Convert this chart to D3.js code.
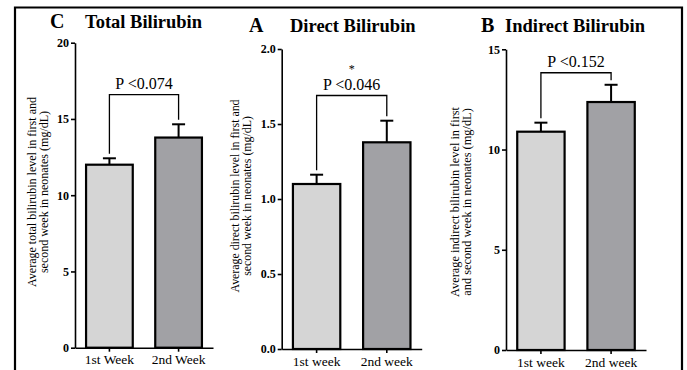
<!DOCTYPE html>
<html>
<head>
<meta charset="utf-8">
<script src="https://cdn.jsdelivr.net/npm/d3@7"></script>
<style>
  body { margin: 0; background: #fff; }
  svg { display: block; }
</style>
</head>
<body>
<div id="chart"></div>
<script>
// values
const panelLetters = ["C", "A", "B"];
const panelTitles = ["Total Bilirubin", "Direct Bilirubin", "Indirect Bilirubin"];
const weekLabels = [
  ["1st Week", "2nd Week"],
  ["1st week", "2nd week"],
  ["1st week", "2nd week"]
];
const meanValues = [
  [12.0, 13.78],
  [1.10, 1.378],
  [10.89, 12.37]
];
const errorValues = [
  [0.42, 0.87],
  [0.062, 0.144],
  [0.45, 0.86]
];
const yMaxValues = [20, 2.0, 15];
const yTickValues = [
  [0, 5, 10, 15, 20],
  [0, 0.5, 1.0, 1.5, 2.0],
  [0, 5, 10, 15]
];
const yTickFormats = ["d", ".1f", "d"];
const pLabels = ["P <0.074", "P <0.046", "P <0.152"];
const starLabels = ["", "*", ""];
const bracketLevels = [16.6, 1.69, 13.83];
const yAxisLabels = [
  ["Average total bilirubin level in first and", "second week in neonates (mg/dL)"],
  ["Average direct bilirubin level in first and", "second week in neonates (mg/dL)"],
  ["Average indirect bilirubin level in first", "and second week in neonates (mg/dL)"]
];
const barColors = ["#d5d5d5", "#a1a1a5"];

const width = 687, height = 370;
const serif = "Liberation Serif";

// where each panel's plot area sits
const layout = [
  { x0: 75, x1: 213, yTop: 42.7, yBottom: 347.7, letterX: 50, titleX: 85, titleY: 28, labelX: 32, labelY: 192, labelLen: 190 },
  { x0: 281.7, x1: 421.7, yTop: 49, yBottom: 349, letterX: 249, titleX: 290, titleY: 32, labelX: 235, labelY: 196, labelLen: 193 },
  { x0: 506, x1: 646, yTop: 49.3, yBottom: 350, letterX: 481, titleX: 505, titleY: 32, labelX: 455, labelY: 202, labelLen: 190 }
];

var svg = d3.select("#chart")
  .append("svg")
  .attr("width", width)
  .attr("height", height);

// outer frame of the figure
svg.append("path")
  .attr("d", "M15," + height + " L15,7.5 L682,7.5 L682," + height)
  .attr("fill", "none")
  .attr("stroke", "#000")
  .attr("stroke-width", 2.2);

panelTitles.forEach(function(title, i) {
  var L = layout[i];
  var g = svg.append("g");

  var x = d3.scaleBand()
    .domain(weekLabels[i])
    .range([L.x0, L.x1])
    .paddingInner(0.325)
    .paddingOuter(0.16);

  var y = d3.scaleLinear()
    .domain([0, yMaxValues[i]])
    .range([L.yBottom, L.yTop]);

  // panel letter + title
  g.append("text")
    .attr("x", L.letterX)
    .attr("y", L.titleY)
    .style("font-family", serif)
    .style("font-size", "20px")
    .style("font-weight", "bold")
    .text(panelLetters[i]);
  g.append("text")
    .attr("x", L.titleX)
    .attr("y", L.titleY)
    .style("font-family", serif)
    .style("font-size", "18.5px")
    .style("font-weight", "bold")
    .text(title);

  var data = weekLabels[i].map(function(w, j) {
    return { week: w, mean: meanValues[i][j], err: errorValues[i][j], color: barColors[j] };
  });

  // upper error bars (drawn first so the bar covers the stem base)
  var eb = g.selectAll(".err")
    .data(data)
    .enter().append("g")
    .attr("class", "err")
    .attr("stroke", "#000")
    .attr("stroke-width", 2);
  eb.append("line")
    .attr("x1", function(d) { return x(d.week) + x.bandwidth() / 2; })
    .attr("x2", function(d) { return x(d.week) + x.bandwidth() / 2; })
    .attr("y1", function(d) { return y(d.mean); })
    .attr("y2", function(d) { return y(d.mean + d.err); });
  eb.append("line")
    .attr("x1", function(d) { return x(d.week) + x.bandwidth() / 2 - 6.5; })
    .attr("x2", function(d) { return x(d.week) + x.bandwidth() / 2 + 6.5; })
    .attr("y1", function(d) { return y(d.mean + d.err); })
    .attr("y2", function(d) { return y(d.mean + d.err); });

  g.selectAll(".bar")
    .data(data)
    .enter().append("rect")
    .attr("class", "bar")
    .attr("x", function(d) { return x(d.week); })
    .attr("y", function(d) { return y(d.mean); })
    .attr("width", x.bandwidth())
    .attr("height", function(d) { return y(0) - y(d.mean); })
    .attr("fill", function(d) { return d.color; })
    .attr("stroke", "#000")
    .attr("stroke-width", 2.2);

  // axes
  var yAxis = g.append("g")
    .attr("transform", "translate(" + L.x0 + ",0)")
    .call(d3.axisLeft(y)
      .tickValues(yTickValues[i])
      .tickFormat(d3.format(yTickFormats[i]))
      .tickSize(4)
      .tickSizeOuter(0)
      .tickPadding(2));
  yAxis.attr("font-family", null);
  yAxis.selectAll("path, line").attr("stroke", "#000").attr("stroke-width", 1.6);
  yAxis.selectAll("text")
    .style("font-family", serif)
    .style("font-size", "12px")
    .style("font-weight", "bold")
    .attr("fill", "#000");

  var xAxis = g.append("g")
    .attr("transform", "translate(0," + L.yBottom + ")")
    .call(d3.axisBottom(x).tickSize(4).tickSizeOuter(0).tickPadding(3));
  xAxis.attr("font-family", null);
  xAxis.selectAll("path, line").attr("stroke", "#000").attr("stroke-width", 1.6);
  xAxis.selectAll("text")
    .style("font-family", serif)
    .style("font-size", "13.5px")
    .attr("fill", "#000");

  // y axis title: two rotated lines, condensed like the original
  var lines = yAxisLabels[i].map(function(line, k) {
    return g.append("text")
      .attr("transform", "translate(" + (L.labelX + k * 11.5) + "," + L.labelY + ") rotate(-90)")
      .attr("text-anchor", "middle")
      .attr("dy", "0.35em")
      .style("font-family", serif)
      .style("font-size", "12.5px")
      .text(line);
  });
  var factor = L.labelLen / lines[0].node().getComputedTextLength();
  lines.forEach(function(t) {
    t.attr("textLength", (t.node().getComputedTextLength() * factor).toFixed(1))
      .attr("lengthAdjust", "spacingAndGlyphs");
  });

  // significance bracket
  var cx1 = x(weekLabels[i][0]) + x.bandwidth() / 2;
  var cx2 = x(weekLabels[i][1]) + x.bandwidth() / 2;
  var top = y(bracketLevels[i]);
  var leg1 = y(data[0].mean + data[0].err) - 4.5;
  var leg2 = y(data[1].mean + data[1].err) - 4.5;
  g.append("path")
    .attr("d", "M" + cx1 + "," + leg1 + " L" + cx1 + "," + top + " L" + cx2 + "," + top + " L" + cx2 + "," + leg2)
    .attr("fill", "none")
    .attr("stroke", "#000")
    .attr("stroke-width", 1.3);
  g.append("text")
    .attr("x", (cx1 + cx2) / 2)
    .attr("y", top - 6)
    .attr("text-anchor", "middle")
    .style("font-family", serif)
    .style("font-size", "16px")
    .text(pLabels[i]);
  if (starLabels[i]) {
    g.append("text")
      .attr("x", (cx1 + cx2) / 2)
      .attr("y", top - 23)
      .attr("text-anchor", "middle")
      .style("font-family", serif)
      .style("font-size", "12px")
      .text(starLabels[i]);
  }
});
</script>
</body>
</html>
